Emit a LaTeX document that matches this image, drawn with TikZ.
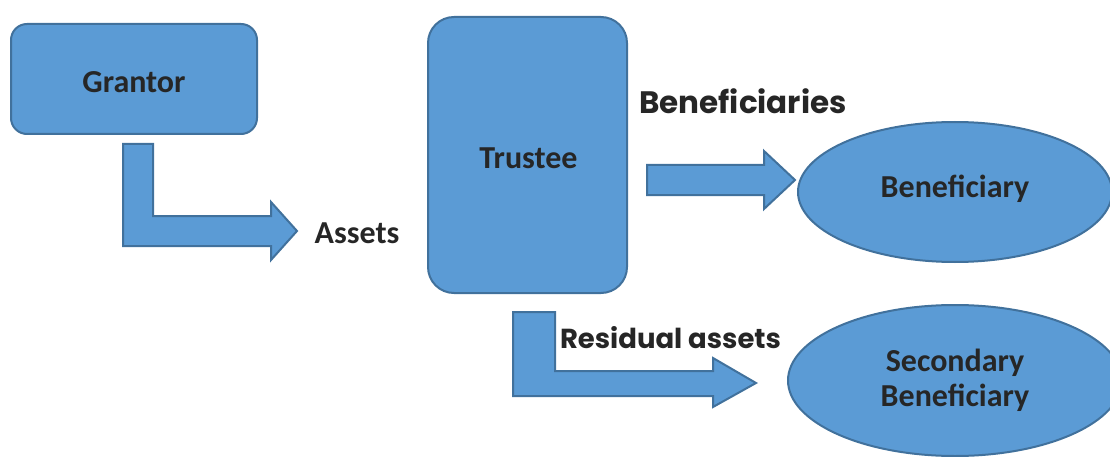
\documentclass[tikz,border=0pt]{standalone}
\usepackage{fontspec}
\setmainfont{Carlito}
\newfontfamily\labelfont{Poppins}
\usetikzlibrary{shapes.geometric}
\definecolor{shapefill}{HTML}{5B9BD5}
\definecolor{shapeline}{HTML}{41719C}
\definecolor{inktext}{HTML}{262626}
\begin{document}
\begin{tikzpicture}[x=1pt,y=-1pt,
  shape style/.style={fill=shapefill,draw=shapeline,line width=2pt},
  party/.style={shape style,rounded corners=#1,inner sep=0pt},
  person/.style={shape style,ellipse,inner sep=0pt},
  plain label/.style={text=inktext,inner sep=0pt,anchor=base,
    font=\fontsize{32}{35}\selectfont\bfseries},
  flow label/.style={text=inktext,inner sep=0pt,anchor=base,
    font=\labelfont\fontsize{#1}{32}\selectfont\bfseries},
  block arrow/.style={shape style,line join=miter}]
\useasboundingbox (0,0) rectangle (1110,457);

% parties
\node[party=16pt,minimum width=246pt,minimum height=110pt] (grantor) at (134,79) {};
\node[party=26pt,minimum width=199pt,minimum height=276pt] (trustee) at (527.5,155) {};
\node[person,minimum width=314pt,minimum height=140pt] (benef) at (955,192) {};
\node[person,minimum width=334pt,minimum height=151pt] (second) at (955,380.5) {};

% names inside the shapes
\node[plain label] (grantor-name) at (134,93) {Grantor};
\node[plain label] (trustee-name) at (528.5,168) {Trustee};
\node[plain label] (benef-name) at (955,197) {Beneficiary};
\node[plain label] (second-name1) at (955,371) {Secondary};
\node[plain label] (second-name2) at (955,406) {Beneficiary};

% flow labels
\node[plain label] (assets) at (357,243) {Assets};
\node[flow label=31] (benlabel) at (743,114) {Beneficiaries};
\node[flow label=27.5] (residual) at (670.5,348) {Residual assets};

% grantor -> trustee: bent block arrow
\draw[block arrow] (123,144) -- (153,144) -- (153,216) -- (271,216) -- (271,202)
  -- (297,231) -- (271,260) -- (271,246) -- (123,246) -- cycle;

% trustee -> beneficiary: straight block arrow
\draw[block arrow] (647,165) -- (764,165) -- (764,151) -- (795,180)
  -- (764,209) -- (764,195) -- (647,195) -- cycle;

% trustee -> secondary beneficiary: bent block arrow
\draw[block arrow] (513,312) -- (555,312) -- (555,371) -- (713,371) -- (713,358)
  -- (756,383) -- (713,407) -- (713,396) -- (513,396) -- cycle;
\end{tikzpicture}
\end{document}
